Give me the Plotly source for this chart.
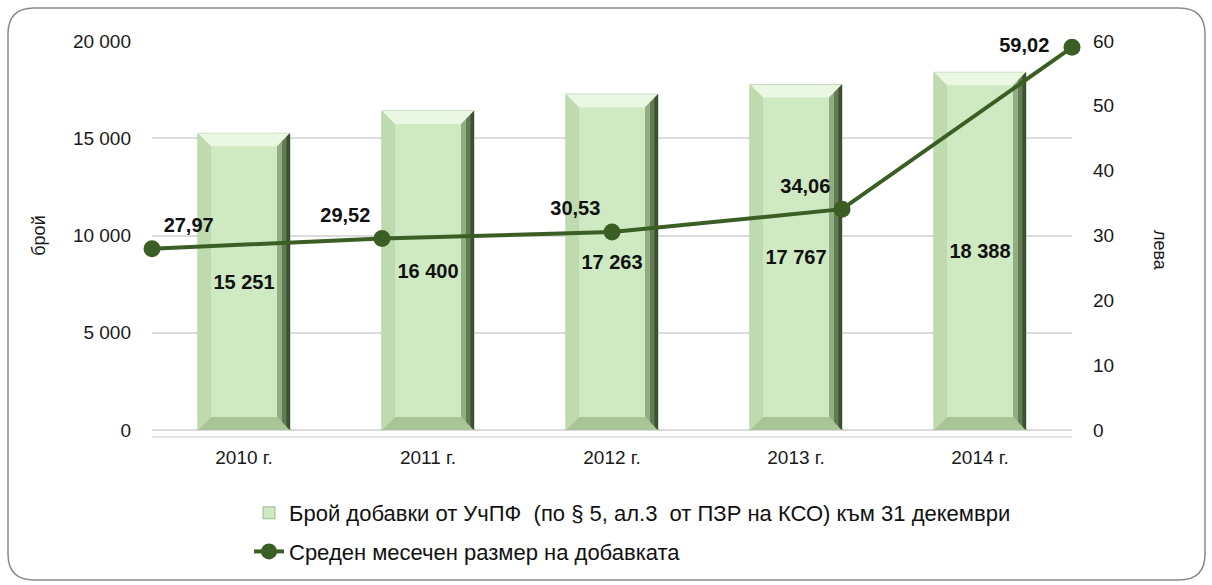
import plotly.graph_objects as go

# Data
years = ["2010 г.", "2011 г.", "2012 г.", "2013 г.", "2014 г."]
count_supplements = [15251, 16400, 17263, 17767, 18388]
avg_monthly_amount = [27.97, 29.52, 30.53, 34.06, 59.02]
line_label_pos = ["top right", "top left", "top left", "top left", "middle left"]

bar_name = "Брой добавки от УчПФ  (по § 5, ал.3  от ПЗР на КСО) към 31 декември"
line_name = "Среден месечен размер на добавката"

FONT = "Liberation Sans Narrow, Arial Narrow, Liberation Sans, sans-serif"
W, H = 1212, 585
ML, MR, MT, MB = 152, 140, 41, 155
PW, PH = W - ML - MR, H - MT - MB
Y_MAX = 20000
HALF = 0.25                      # half bar width, category units
CAT_PX = PW / 5                  # pixels per category


def bx(p):
    return p / CAT_PX            # horizontal pixels -> category units


def by(p):
    return p / PH * Y_MAX        # vertical pixels -> data units


def px(x):
    return (x - ML) / PW


def py(y):
    return (H - MB - y) / PH


idx = list(range(len(years)))

fig = go.Figure()

fig.add_trace(go.Bar(
    x=idx, y=count_supplements, name=bar_name, legendgroup="a",
    marker=dict(color="#cfe9c2", line=dict(color="#8fab80", width=0.8)),
    width=2 * HALF,
    texttemplate="%{y:,}",
    textposition="inside", insidetextanchor="middle",
    textfont=dict(family=FONT, size=20, color="#111111", weight="bold"),
    xaxis="x", yaxis="y",
))


# bevelled edges of each column, as filled polygons in data coordinates
def bevel(color, pts_fn):
    xs, ys = [], []
    for i, v in zip(idx, count_supplements):
        pts = pts_fn(i, v)
        xs += [p[0] for p in pts] + [pts[0][0], None]
        ys += [p[1] for p in pts] + [pts[0][1], None]
    fig.add_trace(go.Scatter(
        x=xs, y=ys, mode="lines", fill="toself", fillcolor=color,
        line=dict(width=0), hoverinfo="skip", showlegend=False,
        xaxis="x", yaxis="y",
    ))


D = 13
bevel("#eaf7e3", lambda i, v: [(i - HALF, v), (i + HALF, v),
                               (i + HALF - bx(D), v - by(D)),
                               (i - HALF + bx(D), v - by(D))])
bevel("#bedaaf", lambda i, v: [(i - HALF, 0), (i - HALF, v),
                               (i - HALF + bx(D), v - by(D)),
                               (i - HALF + bx(D), by(D))])
bevel("#a9c598", lambda i, v: [(i - HALF, 0), (i + HALF, 0),
                               (i + HALF - bx(D), by(D)),
                               (i - HALF + bx(D), by(D))])
bevel("#93ad82", lambda i, v: [(i + HALF, 0), (i + HALF, v),
                               (i + HALF - bx(D), v - by(D)),
                               (i + HALF - bx(D), by(D))])
bevel("#627b54", lambda i, v: [(i + HALF, 0), (i + HALF, v),
                               (i + HALF - bx(8), v - by(8)),
                               (i + HALF - bx(8), by(8))])
bevel("#3c4f31", lambda i, v: [(i + HALF, 0), (i + HALF, v),
                               (i + HALF - bx(3.5), v - by(3.5)),
                               (i + HALF - bx(3.5), by(3.5))])

line_text_tpl = ["%{y:.2f}"] * (len(years) - 1) + ["%{y:.2f}\u00a0\u00a0"]

fig.add_trace(go.Scatter(
    x=idx, y=avg_monthly_amount, name=line_name, legendgroup="b",
    mode="lines+markers+text",
    line=dict(color="#3b5e24", width=4),
    marker=dict(color="#3b5e24", size=17),
    texttemplate=line_text_tpl, textposition=line_label_pos,
    textfont=dict(family=FONT, size=20, color="#111111", weight="bold"),
    xaxis="x2", yaxis="y2", cliponaxis=False,
))

# rounded outer frame
r = 26
x0, x1, y0, y1 = 8, 1205, 8, 580
path = (
    f"M {px(x0 + r)},{py(y0)} L {px(x1 - r)},{py(y0)} "
    f"Q {px(x1)},{py(y0)} {px(x1)},{py(y0 + r)} "
    f"L {px(x1)},{py(y1 - r)} Q {px(x1)},{py(y1)} {px(x1 - r)},{py(y1)} "
    f"L {px(x0 + r)},{py(y1)} Q {px(x0)},{py(y1)} {px(x0)},{py(y1 - r)} "
    f"L {px(x0)},{py(y0 + r)} Q {px(x0)},{py(y0)} {px(x0 + r)},{py(y0)} Z"
)

fig.update_layout(
    width=W, height=H,
    margin=dict(l=ML, r=MR, t=MT, b=MB, pad=0, autoexpand=False),
    paper_bgcolor="white", plot_bgcolor="white",
    separators=", ",
    font=dict(family=FONT, size=19, color="#1a1a1a"),
    showlegend=True,
    legend=dict(
        x=px(249), y=py(492), xanchor="left", yanchor="top",
        orientation="v", traceorder="grouped", tracegroupgap=7,
        font=dict(family=FONT, size=22, color="#111111"),
        bgcolor="rgba(0,0,0,0)",
    ),
    xaxis=dict(
        range=[-0.5, 4.5], tickvals=idx, ticktext=years, showgrid=False,
        zeroline=False, showline=False, ticks="", ticklabelstandoff=14,
        tickfont=dict(family=FONT, size=19, color="#1a1a1a"),
    ),
    xaxis2=dict(
        overlaying="x", range=[0, 4], visible=False, showgrid=False,
    ),
    yaxis=dict(
        range=[0, Y_MAX], dtick=5000, tickformat=",",
        showgrid=True, gridcolor="#dcdcdc", gridwidth=1.5,
        zeroline=True, zerolinecolor="#dcdcdc", zerolinewidth=1.5,
        ticks="", ticklabelstandoff=20,
        tickfont=dict(family=FONT, size=19, color="#1a1a1a"),
        title=dict(text="брой", standoff=22,
                   font=dict(family=FONT, size=18, color="#1a1a1a")),
    ),
    yaxis2=dict(
        overlaying="y", side="right", range=[0, 60], dtick=10,
        showgrid=False, zeroline=False, ticks="", ticklabelstandoff=20,
        tickfont=dict(family=FONT, size=19, color="#1a1a1a"),
    ),
    shapes=[
        dict(type="line", xref="paper", yref="paper",
             x0=0, x1=1, y0=py(437), y1=py(437),
             line=dict(color="#dcdcdc", width=1.5)),
        dict(type="path", xref="paper", yref="paper", path=path,
             line=dict(color="#8a8a8a", width=1.5), layer="below"),
    ],
    annotations=[
        dict(text="лева", xref="paper", yref="paper",
             x=px(1160), y=py(250), xanchor="center", yanchor="middle",
             textangle=90, showarrow=False,
             font=dict(family=FONT, size=18, color="#1a1a1a")),
    ],
)

fig.write_html("out.html")
